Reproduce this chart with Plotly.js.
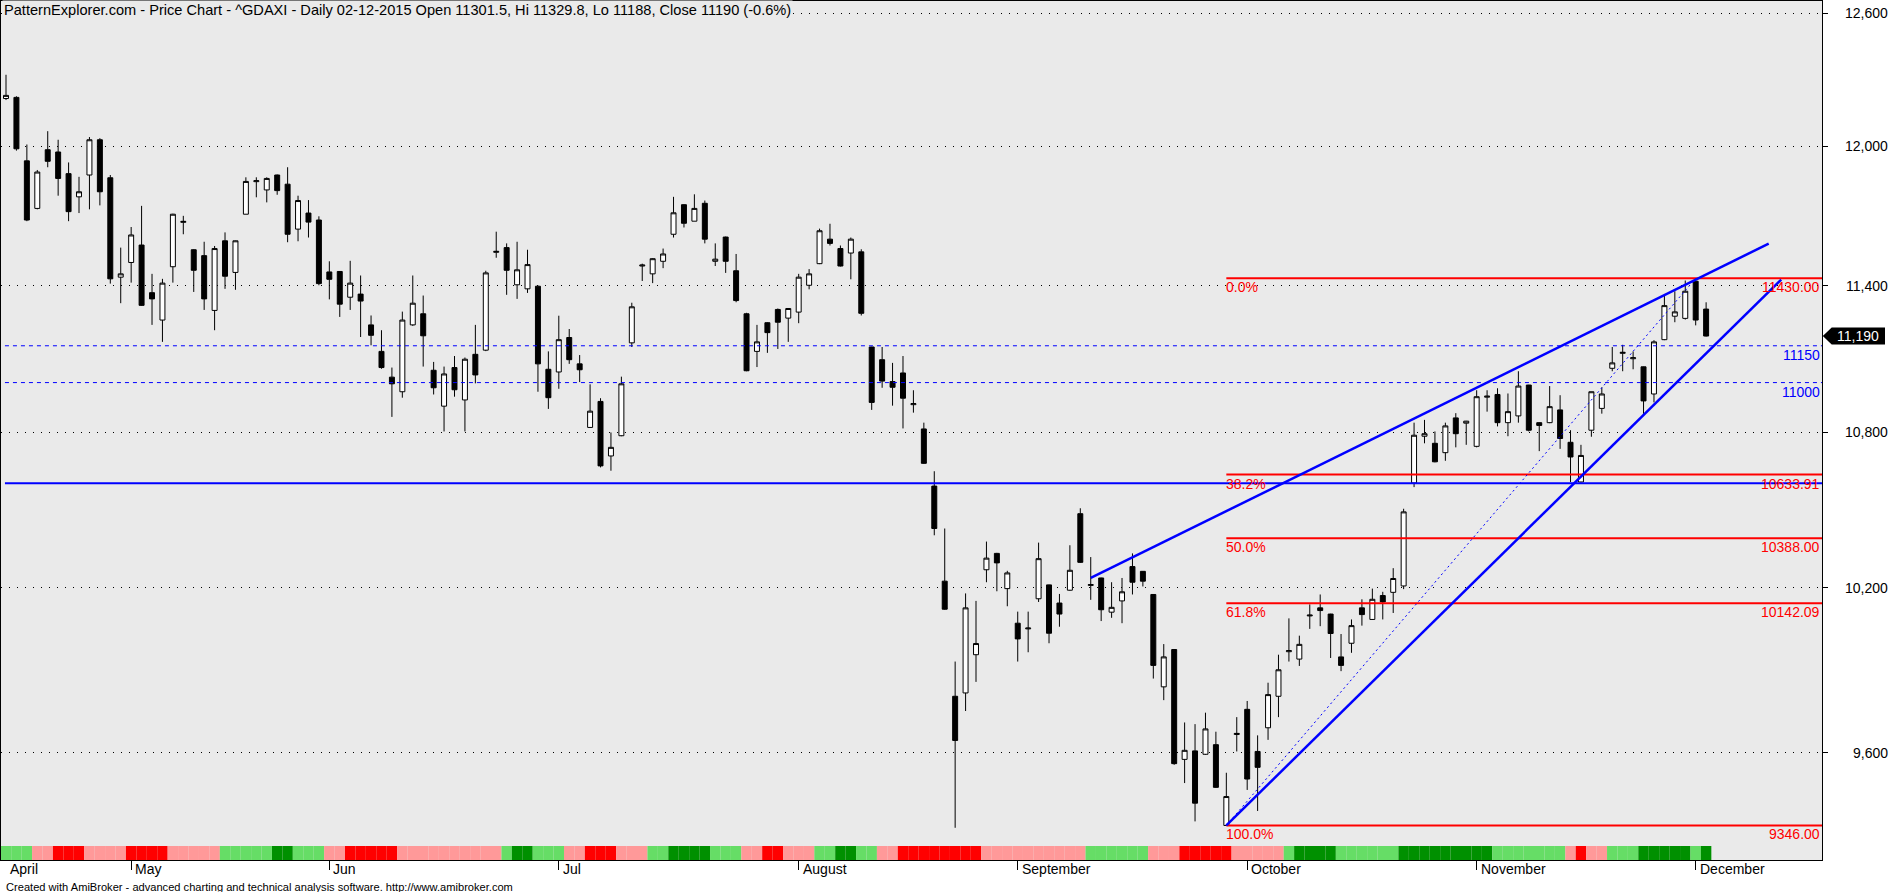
<!DOCTYPE html>
<html>
<head>
<meta charset="utf-8">
<script src="https://cdn.plot.ly/plotly-3.0.1.min.js"></script>
<style>
html,body{margin:0;padding:0;background:#ffffff;}
#chart{width:1891px;height:892px;}
</style>
</head>
<body>
<div id="chart"></div>
<script>
// ---------------- DATA ----------------
const titleText = "PatternExplorer.com - Price Chart - ^GDAXI - Daily 02-12-2015 Open 11301.5, Hi 11329.8, Lo 11188, Close 11190 (-0.6%)";
const footerText = "Created with AmiBroker - advanced charting and technical analysis software. http://www.amibroker.com";

// daily candles, 15 Apr 2015 .. 02 Dec 2015 (index = trading day)
const openP = [12212,12217,11935,11728,11984,11974,11879,11778,11873,12028,
11861,11435,11497,11571,11370,11256,11479,11668,11551,11526,
11296,11589,11455,11703,11844,11808,11873,11833,11639,11708,
11678,11457,11459,11351,11364,11236,11127,11022,10963,11236,
11282,11050,10905,11061,10930,11115,11132,11540,11560,11403,
11386,11397,11054,11043,11184,11076,10820,10924,10707,10787,
11162,11482,11449,11502,11617,11744,11673,11750,11502,11605,
11462,11282,11127,11245,11300,11264,11289,11401,11492,11596,
11556,11537,11542,11145,11093,11004,11039,10911,10814,10589,
10225,9801,9813,9952,10268,10330,10197,10068,10047,10159,
10211,10143,10191,10482,10209,10237,10109,10151,10280,10262,
10175,9835,9971,9576,9606,9594,9628,9346,9664,9754,
9604,9688,9801,9963,9936,10095,10125,10102,9944,9994,
10125,10082,10171,10183,10207,10601,10785,10757,10720,10858,
10837,10745,10941,10952,10839,10866,10990,10839,10839,10890,
10761,10605,10809,10896,11058,11119,11097,11064,10954,11175,
11272,11263,11418,11301.5];
const highP = [12319,12222,12007,11895,12066,12028,11928,11865,12040,12035,
11873,11560,11648,11739,11449,11428,11705,11696,11553,11585,
11567,11625,11590,11863,11863,11863,11875,11907,11783,11764,
11694,11502,11460,11504,11442,11275,11214,11061,11291,11442,
11358,11084,11065,11108,11102,11236,11462,11628,11578,11585,
11551,11400,11127,11274,11219,11112,10993,10937,10800,11024,
11328,11492,11515,11556,11778,11746,11789,11762,11578,11607,
11533,11286,11236,11247,11304,11304,11449,11469,11641,11662,
11569,11603,11553,11146,11145,11080,11108,10969,10839,10647,
10425,9927,10179,10151,10375,10332,10264,10111,10111,10371,
10212,10177,10361,10503,10316,10238,10221,10237,10330,10263,
10176,9991,9972,9707,9701,9742,9674,9529,9726,9784,
9661,9850,9952,10086,10022,10138,10175,10103,10028,10082,
10157,10197,10185,10274,10501,10839,10850,10804,10839,10877,
10846,10969,10969,10977,10956,11046,10991,10840,10986,10949,
10809,10751,10963,10981,11145,11154,11127,11065,11173,11357,
11376,11421,11430,11329.8];
const lowP = [12205,11980,11673,11724,11907,11783,11673,11708,11724,11741,
11408,11326,11412,11315,11236,11166,11412,11617,11373,11298,
11214,11386,11382,11703,11776,11754,11787,11583,11587,11603,
11401,11342,11269,11298,11186,11152,11056,10862,10939,11232,
11065,10952,10804,10943,10804,10997,11128,11517,11361,11344,
11369,10963,10894,10975,11076,11002,10818,10662,10649,10785,
11145,11419,11410,11473,11603,11646,11673,11578,11482,11453,
11330,11046,11063,11121,11137,11166,11243,11384,11490,11569,
11480,11426,11275,10890,10979,10907,10816,10879,10676,10399,
10118,9338,9748,9853,10221,10187,10131,9927,9961,10147,
9994,10055,10189,10294,10155,10076,10088,10068,10175,10205,
9865,9787,9557,9493,9360,9592,9476,9346,9604,9469,
9396,9645,9726,9927,9911,10047,10057,9940,9892,9959,
10059,10080,10082,10106,10195,10585,10757,10682,10688,10741,
10751,10741,10883,10824,10785,10839,10804,10726,10837,10735,
10605,10603,10783,10875,11046,11046,11054,10874,10920,11173,
11247,11258,11234,11188];
const closeP = [12226,11988,11678,11886,11933,11858,11714,11800,12028,11800,
11428,11449,11614,11317,11344,11410,11703,11672,11464,11344,
11556,11439,11589,11845,11848,11858,11805,11617,11762,11669,
11408,11426,11322,11410,11335,11193,11061,10995,11256,11326,
11191,10979,11035,10971,11095,11031,11453,11544,11464,11466,
11488,11076,10939,11175,11093,11052,10885,10668,10741,10995,
11311,11486,11513,11533,11709,11664,11728,11596,11511,11502,
11337,11048,11166,11204,11247,11304,11435,11449,11632,11578,
11482,11596,11284,10920,11006,10981,10937,10915,10678,10425,
10120,9643,10125,9993,10312,10294,10256,10010,10050,10310,
10031,10102,10266,10296,10212,10118,10127,10185,10221,10225,
9913,9944,9561,9608,9423,9684,9478,9446,9668,9507,
9548,9807,9897,9967,9990,10098,10115,10030,9913,10059,
10100,10157,10147,10235,10489,10789,10795,10684,10826,10795,
10845,10943,10945,10839,10883,10986,10809,10828,10903,10776,
10703,10709,10963,10954,11080,11123,11101,10926,11166,11316,
11290,11376,11256,11190];

// indicator colour strip, one code per candle (g light green, G dark green, p pink, r red)
const stripCodes = ("ggg pp rrr pppp rrrr ppppp ggggg GG ggg pp rrrrr pppppppppp g GG ggg pp rrr ppp gg GGGG " +
  "ggg pp rr ppp gg GG gg pp rrrrrrrr pppppppppp gggggg ppp rrrrr ppppp g GGGG gggggg GGGGGGGGG " +
  "ggggggg p r pp ggg GGGGG g G").replace(/ /g, "").split("");
const stripPalette = {g: "#66DD66", G: "#009000", p: "#FF9999", r: "#FF0000"};

// month axis
const monthNames = ["April","May","Jun","Jul","August","September","October","November","December"];
const monthStartIdx = [0,12,31,53,76,97,119,141,162];

// price grid
const gridVals = [9600,10200,10800,11400,12000,12600];

// horizontal study lines
const supportLevel = 10600;
const dashedLevels = [11150, 11000];

// Fibonacci retracement
const fibHigh = 11430, fibLow = 9346;
const fibStartIdx = 117, fibHighIdx = 162;
const fibPct = [0, 38.2, 50.0, 61.8, 100.0];

// trend channel (index, price)
const upperTrend = [[104, 10237], [169.0, 11577]];
const lowerTrend = [[117, 9346], [170.2, 11425]];

// ---------------- LAYOUT CONSTANTS ----------------
const Y_LO = 9228, Y_HI = 12658;
const X_LO = -0.479, X_HI = 174.11;
const PW = 1821, PH = 859;
const R0 = Math.log10(Y_LO), R1 = Math.log10(Y_HI);
const FONT = "Liberation Sans, Arial, sans-serif";

const idx = openP.map((_, i) => i);
const fmt = v => v.toLocaleString("en-US");

// ---------------- TRACES ----------------
const traces = [];

traces.push({
  type: "bar", x: idx, y: idx.map(() => 1), width: 1,
  marker: {color: stripCodes.map(c => stripPalette[c]), line: {width: 0}},
  xaxis: "x", yaxis: "y2", hoverinfo: "skip"
});

function hline(level, x0, color, width, dash) {
  traces.push({type: "scatter", mode: "lines", x: [x0, X_HI], y: [level, level],
    line: {color: color, width: width, dash: dash}, hoverinfo: "skip", xaxis: "x", yaxis: "y"});
}
hline(supportLevel, -0.1, "#0000FF", 2, "solid");
dashedLevels.forEach(l => hline(l, -0.1, "#0000FF", 1, "4px,4px"));

const fibLevels = fibPct.map(p => fibHigh - (fibHigh - fibLow) * p / 100);
fibLevels.forEach(l => hline(l, fibStartIdx, "#FF0000", 2, "solid"));

traces.push({type: "scatter", mode: "lines", x: [fibStartIdx, fibHighIdx], y: [fibLow, fibHigh],
  line: {color: "#0000FF", width: 1, dash: "2px,3px"}, hoverinfo: "skip"});

[upperTrend, lowerTrend].forEach(t => traces.push({type: "scatter", mode: "lines",
  x: t.map(p => p[0]), y: t.map(p => p[1]), line: {color: "#0000FF", width: 2.5}, hoverinfo: "skip"}));

traces.push({
  type: "candlestick", x: idx, open: openP, high: highP, low: lowP, close: closeP,
  increasing: {line: {color: "#000000", width: 1}, fillcolor: "#FFFFFF"},
  decreasing: {line: {color: "#000000", width: 1}, fillcolor: "#000000"},
  whiskerwidth: 0, hoverinfo: "skip", xaxis: "x", yaxis: "y"
});

// ---------------- ANNOTATIONS ----------------
const ann = [];
ann.push({xref: "paper", yref: "paper", x: 0, y: 1, xanchor: "left", yanchor: "top", xshift: 1, yshift: 1,
  text: titleText, showarrow: false, bgcolor: "#EAEAEA", font: {family: FONT, size: 14.6, color: "#000"}});
ann.push({xref: "paper", yref: "paper", x: 0, y: 0, xanchor: "left", yanchor: "top", xshift: 3, yshift: -19,
  text: footerText, showarrow: false, font: {family: FONT, size: 11.1, color: "#000"}});
monthNames.forEach((m, k) => ann.push({xref: "x", yref: "paper", x: monthStartIdx[k], y: 0,
  xanchor: "left", yanchor: "top", xshift: 2, yshift: 1, text: m, showarrow: false,
  font: {family: FONT, size: 14, color: "#000"}}));
gridVals.forEach(v => ann.push({xref: "paper", yref: "y", x: 1, y: Math.log10(v), xanchor: "right",
  yanchor: "middle", xshift: 68, text: fmt(v), showarrow: false, font: {family: FONT, size: 14, color: "#000"}}));
fibLevels.forEach((l, k) => {
  ann.push({xref: "x", yref: "y", x: fibStartIdx, y: Math.log10(l), xanchor: "left", yanchor: "middle",
    xshift: -2, yshift: -9, text: fibPct[k].toFixed(1) + "%", showarrow: false,
    font: {family: FONT, size: 14, color: "#FF0000"}});
  ann.push({xref: "paper", yref: "y", x: 1, y: Math.log10(l), xanchor: "right", yanchor: "middle",
    xshift: 0, yshift: -9, text: l.toFixed(2), showarrow: false,
    font: {family: FONT, size: 14, color: "#FF0000"}});
});
dashedLevels.forEach(l => ann.push({xref: "paper", yref: "y", x: 1, y: Math.log10(l), xanchor: "right",
  yanchor: "middle", xshift: 0, yshift: -9, text: String(l), showarrow: false,
  font: {family: FONT, size: 14, color: "#0000FF"}}));

const lastClose = closeP[closeP.length - 1];
ann.push({xref: "paper", yref: "y", x: 1 + 36 / PW, y: Math.log10(lastClose), xanchor: "center", yanchor: "middle",
  text: fmt(lastClose), showarrow: false, font: {family: FONT, size: 14, color: "#FFFFFF"}});

// close-price marker box (arrow)
const yc = (Math.log10(lastClose) - R0) / (R1 - R0);
const dy = 8.5 / PH;
const xt = 1 + 0.8 / PW, xb = 1 + 9.7 / PW, xr = 1 + 63 / PW;
const shapes = [{type: "path", xref: "paper", yref: "paper",
  path: `M ${xt},${yc} L ${xb},${yc + dy} L ${xr},${yc + dy} L ${xr},${yc - dy} L ${xb},${yc - dy} Z`,
  fillcolor: "#000000", line: {width: 0}}];

const layout = {
  width: 1891, height: 892,
  margin: {l: 1, r: 69, t: 1, b: 32, pad: 0},
  paper_bgcolor: "#FFFFFF", plot_bgcolor: "#EAEAEA",
  showlegend: false, boxgap: 0.32,
  font: {family: FONT, size: 14, color: "#000"},
  xaxis: {type: "linear", range: [X_LO, X_HI], showgrid: false, zeroline: false,
    showline: true, linecolor: "#000", linewidth: 1, mirror: true,
    ticks: "outside", ticklen: 9, tickwidth: 1, tickcolor: "#000",
    tickvals: monthStartIdx.slice(1), showticklabels: false,
    rangeslider: {visible: false}, fixedrange: true},
  yaxis: {type: "log", range: [R0, R1], side: "right", domain: [0, 1],
    tickvals: gridVals, showticklabels: false, ticks: "outside", ticklen: 5, tickcolor: "#000",
    showgrid: true, gridcolor: "#000", gridwidth: 1, griddash: "1px,7px",
    showline: true, linecolor: "#000", linewidth: 1, mirror: true, zeroline: false, fixedrange: true},
  yaxis2: {domain: [0, 14 / PH], range: [0, 1], visible: false, anchor: "x", fixedrange: true},
  annotations: ann,
  shapes: shapes
};

Plotly.newPlot("chart", traces, layout, {staticPlot: true, displayModeBar: false});
</script>
</body>
</html>
